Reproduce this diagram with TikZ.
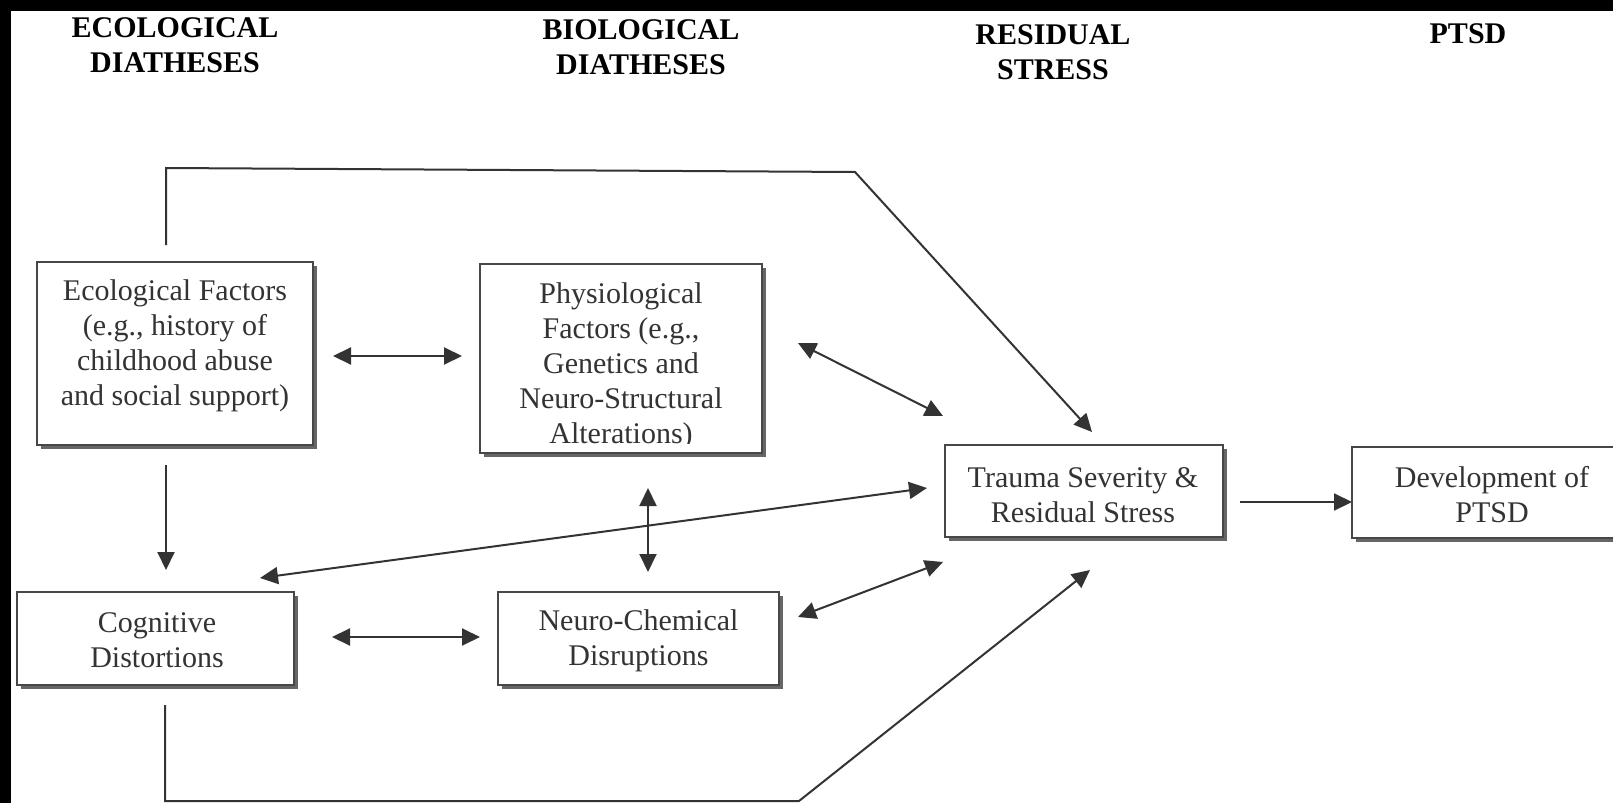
\documentclass[tikz,border=0pt]{standalone}
\usepackage{fontspec}
\setmainfont{Liberation Serif}
\usetikzlibrary{arrows.meta,shadows}
\begin{document}
\begin{tikzpicture}[x=0.5pt,y=-0.5pt,
  box/.style={draw=black!72, line width=1pt, fill=white, inner sep=0pt,
    drop shadow={shadow xshift=1.8pt, shadow yshift=-1.8pt, fill=black!60, opacity=1}},
  txt/.style={align=center, text=black!80, inner sep=0pt, font=\fontsize{15pt}{17.5pt}\selectfont},
  head/.style={align=center, text=black, inner sep=0pt, font=\bfseries\fontsize{15pt}{17.5pt}\selectfont},
  conn/.style={draw=black!80, line width=1pt},
  tip/.style={-{Triangle[length=9pt,width=8.5pt]}},
  dtip/.style={{Triangle[length=9pt,width=8.5pt]}-{Triangle[length=9pt,width=8.5pt]}}]
\useasboundingbox (0,0) rectangle (1613,803);
\clip (0,0) rectangle (1613,803);
\fill[white] (0,0) rectangle (1613,803);
\fill[black] (0,0) rectangle (1613,11);
\fill[black] (0,0) rectangle (11,803);

% headings
\node[head] (h1) at (175,45) {ECOLOGICAL\\DIATHESES};
\node[head] (h2) at (641,47) {BIOLOGICAL\\DIATHESES};
\node[head] (h3) at (1053,52.5) {RESIDUAL\\STRESS};
\node[head] (h4) at (1468,34) {PTSD};

% boxes
\node[box, minimum width=138pt, minimum height=91.5pt] (eco) at (175,353.5) {};
\node[txt] (ecot) at (175,346) {Ecological Factors\\(e.g., history of\\childhood abuse\\and social support)};

\node[box, minimum width=141pt, minimum height=94.5pt] (phys) at (621,358.5) {};
\begin{scope}
  \clip (480,264) rectangle (762,443);
  \node[txt] (physt) at (621,366) {Physiological\\Factors (e.g.,\\Genetics and\\Neuro-Structural\\Alterations)};
\end{scope}

\node[box, minimum width=139pt, minimum height=46pt] (trauma) at (1084,491) {};
\node[txt] (traumat) at (1083,495) {Trauma Severity \&\\Residual Stress};

\node[box, minimum width=140pt, minimum height=45.5pt] (dev) at (1492,492.5) {};
\node[txt] (devt) at (1492,495) {Development of\\PTSD};

\node[box, minimum width=138.5pt, minimum height=46.5pt] (cog) at (155.5,638.5) {};
\node[txt] (cogt) at (157,640) {Cognitive\\Distortions};

\node[box, minimum width=140.5pt, minimum height=46.5pt] (neuro) at (638.5,638.5) {};
\node[txt] (neurot) at (638.5,641) {Neuro-Chemical\\Disruptions};

% connector end points
\coordinate (ep1) at (333,356);   \coordinate (pp1) at (462,356);
\coordinate (ec1) at (166,465);   \coordinate (ec2) at (166,570);
\coordinate (pn1) at (648,488);   \coordinate (pn2) at (648,572);
\coordinate (cn1) at (332,637);   \coordinate (cn2) at (480,637);
\coordinate (tc1) at (260,578);   \coordinate (tc2) at (927,488);
\coordinate (pt1) at (798,343);   \coordinate (pt2) at (943,416);
\coordinate (nt1) at (798,617);   \coordinate (nt2) at (943,562);
\coordinate (top0) at (166,245);  \coordinate (top1) at (166,168);
\coordinate (top2) at (855,172);  \coordinate (top3) at (1092,432);
\coordinate (bot0) at (165,705);  \coordinate (bot1) at (165,801);
\coordinate (bot2) at (799,801);  \coordinate (bot3) at (1090,570);
\coordinate (td1) at (1240,502);  \coordinate (td2) at (1352,502);

\draw[conn,dtip] (ep1) -- (pp1);
\draw[conn,tip] (ec1) -- (ec2);
\draw[conn,dtip] (pn1) -- (pn2);
\draw[conn,dtip] (cn1) -- (cn2);
\draw[conn,dtip] (tc1) -- (tc2);
\draw[conn,dtip] (pt1) -- (pt2);
\draw[conn,dtip] (nt1) -- (nt2);
\draw[conn,tip] (top0) -- (top1) -- (top2) -- (top3);
\draw[conn,tip] (bot0) -- (bot1) -- (bot2) -- (bot3);
\draw[conn,tip] (td1) -- (td2);
\end{tikzpicture}
\end{document}
